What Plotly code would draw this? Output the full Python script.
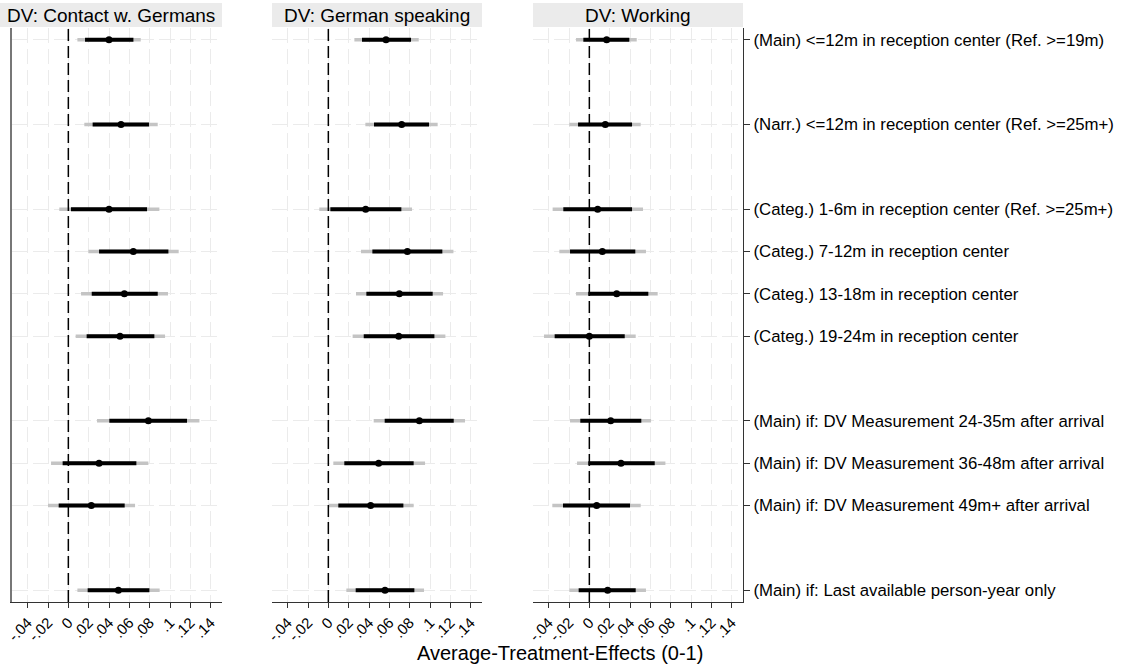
import plotly.graph_objects as go

# ---- data ----
row_pos = [1, 3, 5, 6, 7, 8, 10, 11, 12, 14]
row_labels = [
    "(Main) &lt;=12m in reception center (Ref. &gt;=19m)",
    "(Narr.) &lt;=12m in reception center (Ref. &gt;=25m+)",
    "(Categ.) 1-6m in reception center (Ref. &gt;=25m+)",
    "(Categ.) 7-12m in reception center",
    "(Categ.) 13-18m in reception center",
    "(Categ.) 19-24m in reception center",
    "(Main) if: DV Measurement 24-35m after arrival",
    "(Main) if: DV Measurement 36-48m after arrival",
    "(Main) if: DV Measurement 49m+ after arrival",
    "(Main) if: Last available person-year only",
]
panel_titles = ["DV: Contact w. Germans", "DV: German speaking", "DV: Working"]

# Contact w. Germans
contact_est = [0.040, 0.0518, 0.040, 0.0639, 0.0551, 0.0508, 0.0787, 0.0302, 0.0226, 0.0492]
contact_lo90 = [0.0164, 0.0239, 0.0026, 0.0302, 0.023, 0.018, 0.0403, -0.0056, -0.0095, 0.019]
contact_hi90 = [0.0640, 0.0793, 0.0774, 0.0984, 0.0879, 0.0846, 0.1167, 0.0669, 0.0554, 0.0797]
contact_lo95 = [0.0089, 0.0157, -0.0089, 0.0197, 0.0125, 0.0072, 0.0282, -0.017, -0.020, 0.0089]
contact_hi95 = [0.0712, 0.0879, 0.0895, 0.1085, 0.098, 0.0951, 0.1289, 0.0787, 0.0656, 0.0898]

# German speaking
speak_est = [0.0567, 0.0721, 0.0367, 0.0777, 0.0698, 0.0692, 0.0895, 0.0495, 0.0416, 0.0557]
speak_lo90 = [0.0331, 0.0449, 0.002, 0.0433, 0.0374, 0.0348, 0.0554, 0.0157, 0.0098, 0.0269]
speak_hi90 = [0.0813, 0.099, 0.0718, 0.1121, 0.1026, 0.1043, 0.1233, 0.0839, 0.0738, 0.0846]
speak_lo95 = [0.0256, 0.0364, -0.0089, 0.0321, 0.0272, 0.0239, 0.0446, 0.0049, 0.0003, 0.0177]
speak_hi95 = [0.0889, 0.1075, 0.0823, 0.123, 0.1128, 0.1151, 0.1344, 0.0951, 0.0839, 0.0941]

# Working
work_est = [0.017, 0.0157, 0.0082, 0.0128, 0.0269, 0.0, 0.021, 0.0311, 0.0072, 0.018]
work_lo90 = [-0.0059, -0.0111, -0.0256, -0.019, -0.001, -0.0341, -0.0089, -0.001, -0.0259, -0.0105]
work_hi90 = [0.0393, 0.042, 0.042, 0.0452, 0.058, 0.0348, 0.0511, 0.0643, 0.040, 0.0456]
work_lo95 = [-0.0131, -0.0197, -0.0361, -0.0295, -0.0131, -0.0446, -0.019, -0.0121, -0.0364, -0.0197]
work_hi95 = [0.0466, 0.0505, 0.0528, 0.0557, 0.0672, 0.0456, 0.0607, 0.0748, 0.0505, 0.0557]

x_tickvals = [-0.04, -0.02, 0, 0.02, 0.04, 0.06, 0.08, 0.10, 0.12, 0.14]
x_ticktext = ["-.04", "-.02", "0", ".02", ".04", ".06", ".08", ".1", ".12", ".14"]
x_title = "Average-Treatment-Effects (0-1)"

panels = [
    (contact_est, contact_lo90, contact_hi90, contact_lo95, contact_hi95),
    (speak_est, speak_lo90, speak_hi90, speak_lo95, speak_hi95),
    (work_est, work_lo90, work_hi90, work_lo95, work_hi95),
]

# ---- layout geometry (pixels) ----
W, H = 1122, 672
REF_L, REF_R, REF_T, REF_B = 12, 743, 28, 602
ML = REF_L
MR = W - REF_R
MT = REF_T
MB = H - REF_B
PW = REF_R - REF_L
PH = REF_B - REF_T
panel_px = [(12, 222), (272, 482), (533, 743)]
band_px = [(0, 222), (272, 482), (533, 743)]

def px_x(p):
    return (p - REF_L) / PW

def px_y(p):
    return (REF_B - p) / PH

FONT = "Liberation Sans, Arial, Helvetica, sans-serif"

fig = go.Figure()

def seg(lo, hi, ys):
    xs, yy = [], []
    for a, b, y in zip(lo, hi, ys):
        xs += [a, b, None]
        yy += [y, y, None]
    return xs, yy

for i, (est, lo90, hi90, lo95, hi95) in enumerate(panels):
    xa = "x" if i == 0 else f"x{i+1}"
    ya = "y" if i == 0 else f"y{i+1}"
    xs, ys = seg(lo95, hi95, row_pos)
    fig.add_trace(go.Scatter(x=xs, y=ys, mode="lines", line=dict(color="#c4c4c4", width=3.5),
                             xaxis=xa, yaxis=ya, showlegend=False, hoverinfo="skip"))
    xs, ys = seg(lo90, hi90, row_pos)
    fig.add_trace(go.Scatter(x=xs, y=ys, mode="lines", line=dict(color="black", width=4),
                             xaxis=xa, yaxis=ya, showlegend=False, hoverinfo="skip"))
    fig.add_trace(go.Scatter(x=est, y=row_pos, mode="markers",
                             marker=dict(color="black", size=7, symbol="circle"),
                             xaxis=xa, yaxis=ya, showlegend=False))

xrange_ = [-0.0554, 0.1511]
yrange_ = [14.28, 0.72]
grid_col = "#ebebeb"
axis_col = "#333333"

layout = dict(
    width=W, height=H,
    margin=dict(l=ML, r=MR, t=MT, b=MB, pad=0, autoexpand=False),
    paper_bgcolor="white", plot_bgcolor="white",
    font=dict(family=FONT, color="black"),
    shapes=[], annotations=[],
)

for i in range(3):
    sfx = "" if i == 0 else str(i + 1)
    x0p, x1p = panel_px[i]
    dom = [px_x(x0p), px_x(x1p)]
    layout[f"xaxis{sfx}"] = dict(
        domain=dom, range=xrange_, anchor=f"y{sfx}", automargin=False,
        tickvals=x_tickvals, ticktext=x_ticktext, tickangle=-45,
        tickfont=dict(size=15, family=FONT, color="black"),
        ticks="outside", ticklen=5, tickcolor=axis_col, tickwidth=1,
        showline=True, linecolor=axis_col, linewidth=1.2,
        showgrid=True, gridcolor=grid_col, gridwidth=1, griddash="15px,6px",
        zeroline=False, fixedrange=True,
    )
    ydict = dict(
        domain=[0, 1], range=yrange_, anchor=f"x{sfx}", automargin=False,
        tickvals=row_pos, showgrid=True, gridcolor=grid_col, gridwidth=1,
        griddash="16px,5px", zeroline=False, fixedrange=True,
    )
    if i == 0:
        ydict.update(showticklabels=False, ticks="", showline=True,
                     linecolor="#777777", linewidth=1.5)
    elif i == 1:
        ydict.update(showticklabels=False, ticks="", showline=False)
    else:
        ydict.update(side="right", ticktext=row_labels, showticklabels=True,
                     tickfont=dict(size=16.8, family=FONT, color="black"),
                     ticks="outside", ticklen=6, tickcolor=axis_col,
                     showline=True, linecolor=axis_col, linewidth=1.2)
    layout[f"yaxis{sfx}"] = ydict

    # zero reference line
    layout["shapes"].append(dict(
        type="line", xref=f"x{sfx}", yref="paper", x0=0, x1=0, y0=0, y1=1,
        line=dict(color="black", width=1.5, dash="12px,5px"), layer="above"))
    # header band
    b0, b1 = band_px[i]
    layout["shapes"].append(dict(
        type="rect", xref="paper", yref="paper",
        x0=px_x(b0), x1=px_x(b1), y0=px_y(27), y1=px_y(3),
        fillcolor="#ebebeb", line=dict(width=0), layer="below"))
    layout["annotations"].append(dict(
        text=panel_titles[i], xref="paper", yref="paper",
        x=px_x((b0 + b1) / 2), y=px_y(15), xanchor="center", yanchor="middle",
        showarrow=False, font=dict(size=19, family=FONT, color="black")))

layout["annotations"].append(dict(
    text=x_title, xref="paper", yref="paper",
    x=px_x(560), y=px_y(653), xanchor="center", yanchor="middle",
    showarrow=False, font=dict(size=20, family=FONT, color="black")))

fig.update_layout(**layout)
# the page body has a default 8px margin; remove it so the figure sits at the window origin
fig.write_html("out.html", config={"displayModeBar": False},
               post_script="document.body.style.margin='0px';")
